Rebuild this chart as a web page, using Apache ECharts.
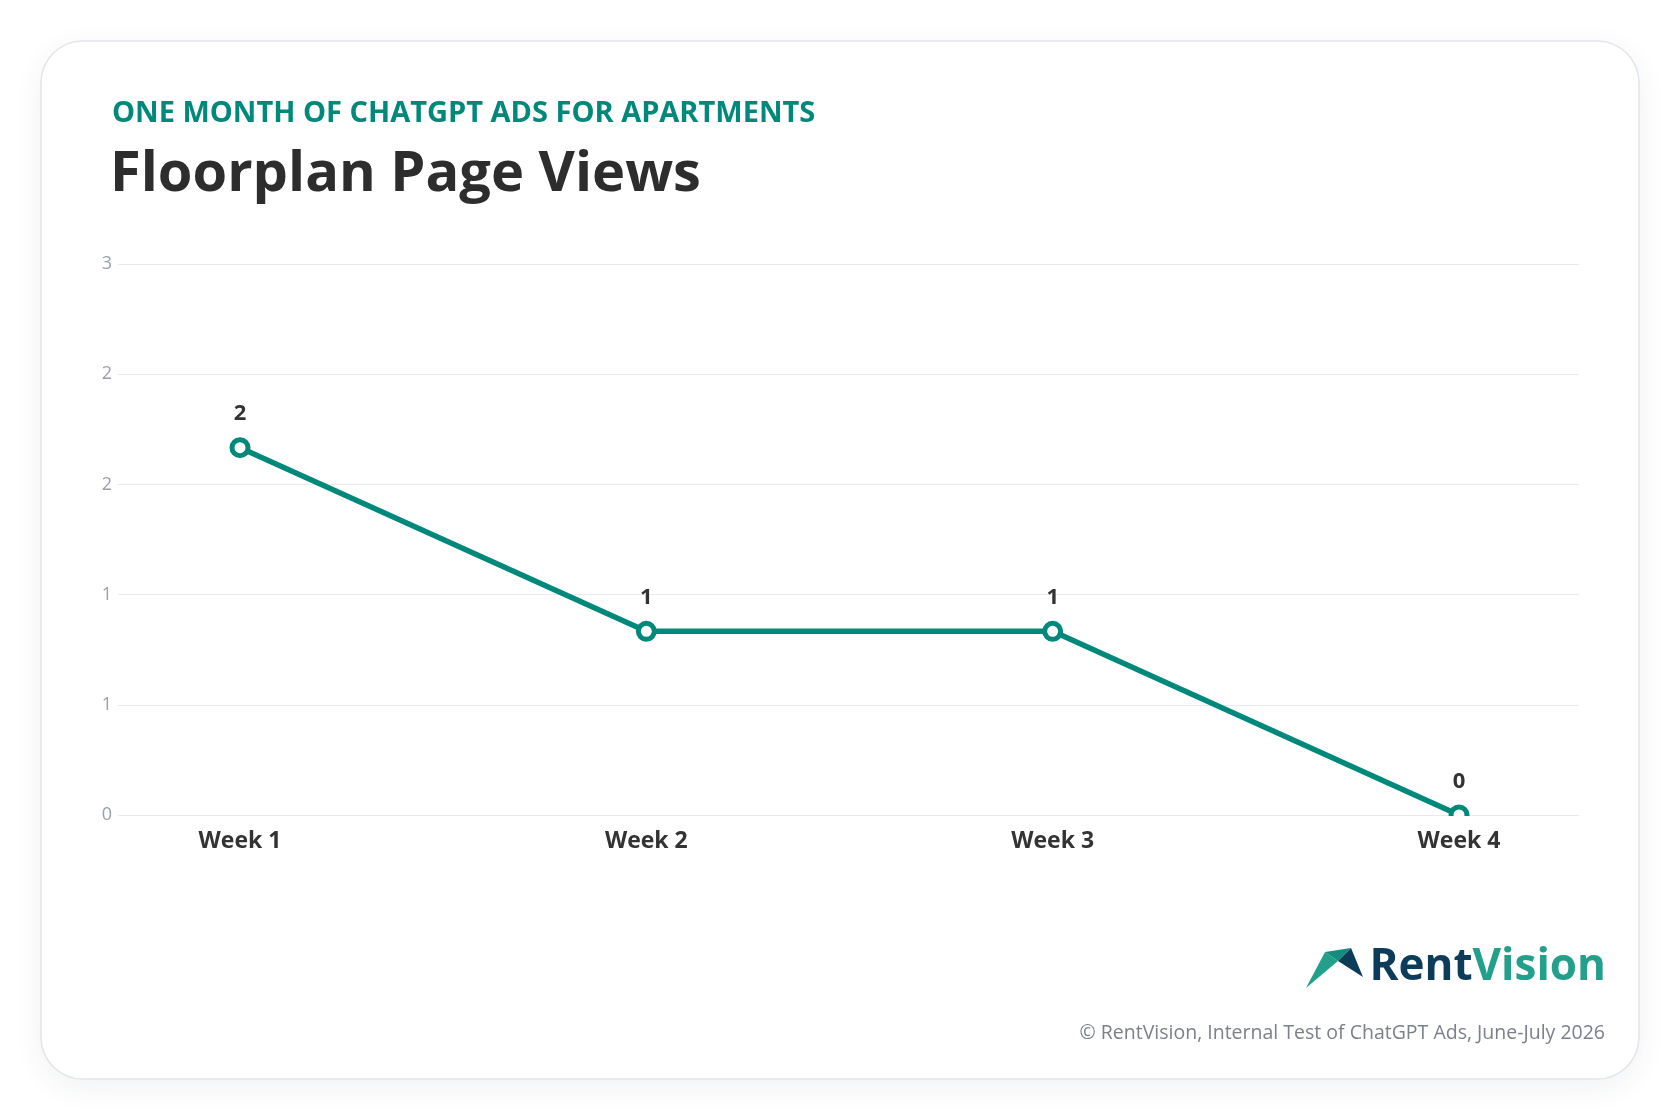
<!DOCTYPE html>
<html>
<head>
<meta charset="utf-8">
<title>Floorplan Page Views</title>
<script src="https://cdn.jsdelivr.net/npm/echarts@6/dist/echarts.min.js"></script>
<style>
  html, body { margin: 0; padding: 0; background: #fff; }
  #chart { width: 1680px; height: 1120px; }
</style>
</head>
<body>
<div id="chart"></div>
<script>
// chart data
var weeks = ['Week 1', 'Week 2', 'Week 3', 'Week 4'];
var views = [2, 1, 1, 0];
var yMin = 0;
var yMax = 3;
var yStep = 0.6; // tick labels are shown rounded: 0,1,1,2,2,3

var kicker = 'ONE MONTH OF CHATGPT ADS FOR APARTMENTS';
var heading = 'Floorplan Page Views';
var footnote = '\u00A9 RentVision, Internal Test of ChatGPT Ads, June-July 2026';

var teal = '#00897b';
var font = "'Open Sans', 'Noto Sans', sans-serif";

var chart = echarts.init(document.getElementById('chart'));

var option = {
  backgroundColor: '#fff',
  animation: false,
  textStyle: { fontFamily: font },
  grid: [
    { left: 118, right: 101, top: 264, bottom: 305 },   // gridlines + y labels
    { left: 240, right: 221, top: 264, bottom: 305 }    // the line itself
  ],
  xAxis: [
    { gridIndex: 0, type: 'value', min: 0, max: 1, show: false },
    {
      gridIndex: 1,
      type: 'category',
      data: weeks,
      boundaryGap: false,
      axisLine: { show: false },
      axisTick: { show: false },
      axisLabel: {
        margin: 15,
        color: '#333333',
        fontSize: 23,
        fontWeight: 'bold',
        fontFamily: font
      }
    }
  ],
  yAxis: [
    {
      gridIndex: 0,
      type: 'value',
      min: yMin,
      max: yMax,
      interval: yStep,
      axisLine: { show: false },
      axisTick: { show: false },
      axisLabel: {
        margin: 6,
        color: '#9a9fa8',
        fontSize: 18,
        fontFamily: font,
        formatter: function (v) { return String(Math.round(v)); }
      },
      splitLine: { lineStyle: { color: '#e9eaee', width: 1.2 } }
    },
    { gridIndex: 1, type: 'value', min: yMin, max: yMax, show: false }
  ],
  series: [{
    name: 'Floorplan Page Views',
    type: 'line',
    xAxisIndex: 1,
    yAxisIndex: 1,
    data: views,
    symbol: 'circle',
    symbolSize: 16,
    showAllSymbol: true,
    lineStyle: { color: teal, width: 5.5 },
    itemStyle: { color: '#ffffff', borderColor: teal, borderWidth: 5 },
    label: {
      show: true,
      position: 'top',
      distance: 12,
      color: '#333333',
      fontSize: 22,
      fontWeight: 'bold',
      fontFamily: font
    },
    z: 3
  }],
  graphic: [
    {
      type: 'rect',
      z: -10,
      shape: { x: 41, y: 41, width: 1598, height: 1038, r: 42 },
      style: {
        fill: '#fff',
        stroke: '#e3e5ed',
        lineWidth: 1.5,
        shadowBlur: 30,
        shadowOffsetY: 8,
        shadowColor: 'rgba(40,50,90,0.07)'
      }
    },
    {
      type: 'text',
      left: 112,
      top: 99,
      style: {
        text: kicker,
        fill: teal,
        font: "bold 29px " + font
      }
    },
    {
      type: 'text',
      left: 110,
      top: 147,
      style: {
        text: heading,
        fill: '#2d2d2d',
        font: "bold 56px " + font
      }
    },
    // RentVision mark
    {
      type: 'polygon',
      shape: { points: [[1306, 988], [1325, 952], [1338, 961]] },
      style: { fill: '#22a08b' }
    },
    {
      type: 'polygon',
      shape: { points: [[1325, 952], [1351, 948], [1338, 961]] },
      style: { fill: '#168c7e' }
    },
    {
      type: 'polygon',
      shape: { points: [[1351, 948], [1363, 977], [1338, 961]] },
      style: { fill: '#0d3c5a' }
    },
    {
      type: 'text',
      right: 74,
      top: 945,
      style: {
        text: '{a|Rent}{b|Vision}',
        rich: {
          a: { fill: '#0d3c5a', font: "bold 44px " + font },
          b: { fill: '#22a08b', font: "bold 44px " + font }
        }
      }
    },
    {
      type: 'text',
      right: 75,
      top: 1023,
      style: {
        text: footnote,
        fill: '#7b808a',
        font: "19.5px " + font
      }
    }
  ]
};

chart.setOption(option);

// hide the part of the markers that falls below the zero line, like the original
var zeroY = chart.convertToPixel({ yAxisIndex: 0 }, yMin);
chart.setOption({
  graphic: option.graphic.concat([{
    type: 'rect',
    z: 10,
    shape: { x: 118, y: zeroY + 1, width: 1461, height: 12 },
    style: { fill: '#fff' }
  }])
});
</script>
</body>
</html>
